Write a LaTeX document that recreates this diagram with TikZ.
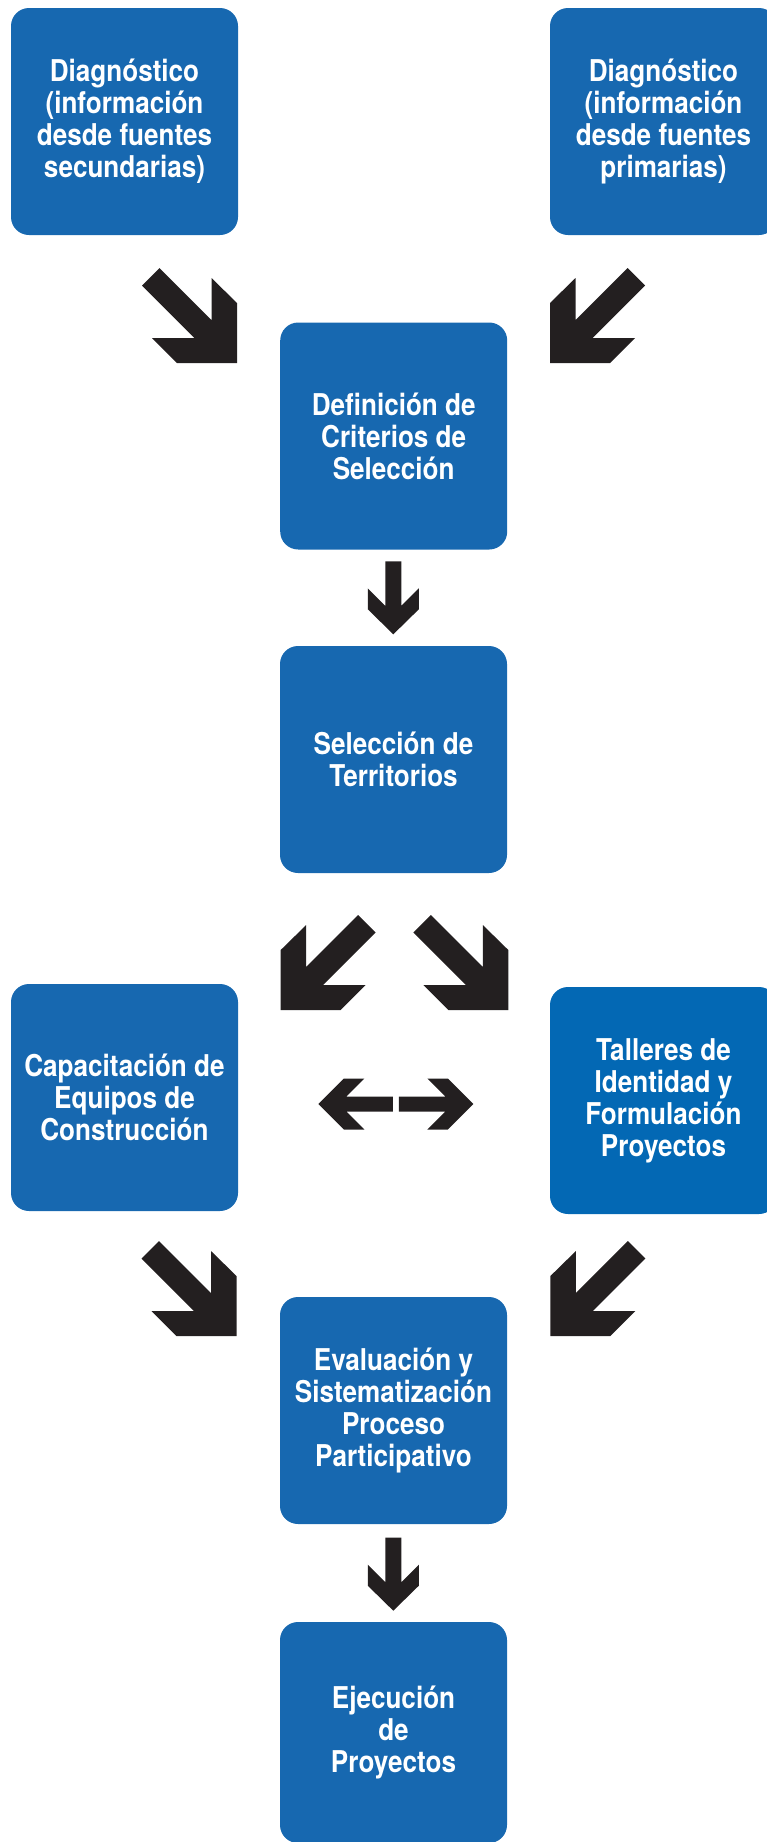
\documentclass[tikz,border=0pt]{standalone}
\usepackage{fontspec}
\setmainfont{TeX Gyre Heros}[FakeStretch=0.87]
\definecolor{boxblue}{RGB}{23,104,176}
\definecolor{boxbluealt}{RGB}{3,104,180}
\definecolor{arrowcol}{RGB}{35,31,32}
\tikzset{
  box/.style={rounded corners=18pt, fill=boxblue, draw=none, minimum width=227pt,
    minimum height=227pt, inner sep=0pt, text=white, align=center,
    font=\bfseries\fontsize{30}{32}\selectfont},
  diagarrow/.pic={\fill[arrowcol] (-95,-77.5) -- (-77.5,-95) -- (-25.5,-43) -- (-25.5,-85)
     -- (0,-60) -- (0,0) -- (-60,0) -- (-85,-25) -- (-42.5,-25) -- cycle;},
  downarrow/.pic={\fill[arrowcol] (-8,-73) -- (8,-73) -- (8,-28.5) -- (25.5,-46) -- (25.5,-25)
     -- (0,0) -- (-25.5,-25) -- (-25.5,-46) -- (-8,-28.5) -- cycle;},
  leftarrow/.pic={\fill[arrowcol] (0,0) -- (25.5,-25.5) -- (46,-25.5) -- (28,-7.5) -- (74.5,-7.5)
     -- (74.5,7.5) -- (28,7.5) -- (46,25.5) -- (25.5,25.5) -- cycle;}
}
\begin{document}
\begin{tikzpicture}[x=1pt,y=-1pt]
\useasboundingbox (0,0) rectangle (767,1842);
\clip (0,0) rectangle (767,1842);
% boxes
\node[box] (d1) at (124.5,121.5) {Diagnóstico\\(información\\desde fuentes\\secundarias)};
\node[box] (d2) at (663.5,121.5) {Diagnóstico\\(información\\desde fuentes\\primarias)};
\node[box] (crit) at (393.7,436) {Definición de\\Criterios de\\Selección};
\node[box] (terr) at (393.5,759.5) {Selección de\\Territorios};
\node[box] (cap) at (124.5,1097.5) {Capacitación de\\Equipos de\\Construcción};
\node[box, fill=boxbluealt] (tall) at (663.5,1100.5) {Talleres de\\Identidad y\\Formulación\\Proyectos};
\node[box] (eval) at (393.5,1410.5) {Evaluación y\\Sistematización\\Proceso\\Participativo};
\node[box, minimum height=221pt] (ejec) at (393.5,1732.5) {Ejecución\\de\\Proyectos};
% arrow anchor points
\coordinate (a1) at (237,363);
\coordinate (a2) at (550,363);
\coordinate (a3) at (280.7,1010);
\coordinate (a4) at (508.3,1010);
\coordinate (a5) at (236.5,1336);
\coordinate (a6) at (550.4,1336);
\coordinate (v1) at (393.3,634.3);
\coordinate (v2) at (393.3,1610.7);
\coordinate (hL) at (318.3,1104);
\coordinate (hR) at (473.3,1104);
% arrows
\pic at (a1) {diagarrow};
\pic[xscale=-1] at (a2) {diagarrow};
\pic[xscale=-1] at (a3) {diagarrow};
\pic at (a4) {diagarrow};
\pic at (a5) {diagarrow};
\pic[xscale=-1] at (a6) {diagarrow};
\pic at (v1) {downarrow};
\pic at (v2) {downarrow};
\pic at (hL) {leftarrow};
\pic[xscale=-1] at (hR) {leftarrow};
\end{tikzpicture}
\end{document}
